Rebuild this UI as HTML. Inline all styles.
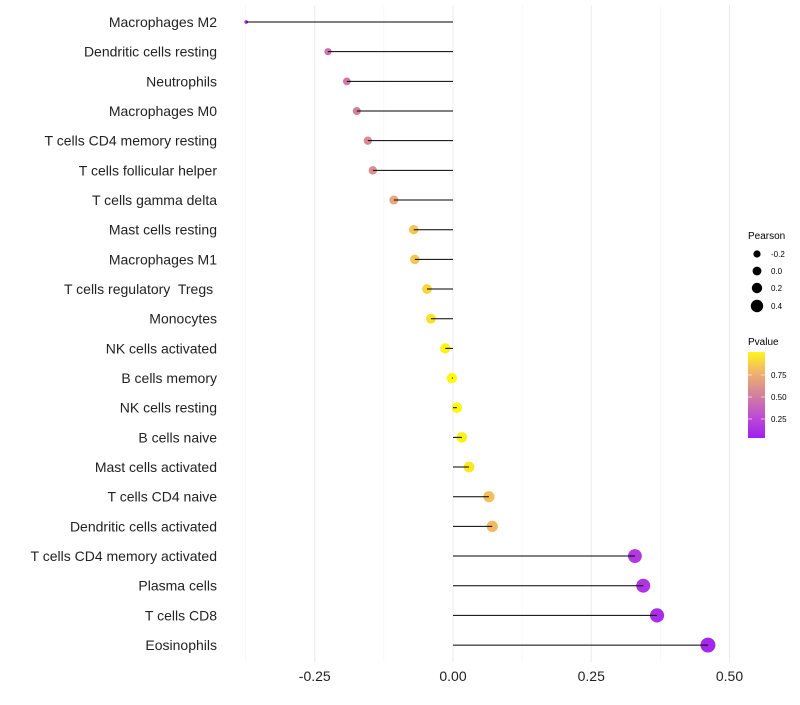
<!DOCTYPE html>
<html><head><meta charset="utf-8"><style>
body{margin:0;background:#fff;font-family:"Liberation Sans",sans-serif}
</style></head><body>
<svg id="chart" width="800" height="700" xmlns="http://www.w3.org/2000/svg">
<defs><linearGradient id="pg" x1="0" y1="1" x2="0" y2="0">
<stop offset="0" stop-color="#A020F0"/><stop offset="0.27" stop-color="#C050D0"/><stop offset="0.5" stop-color="#D4809C"/><stop offset="0.75" stop-color="#F0B070"/><stop offset="1" stop-color="#FFF51A"/></linearGradient></defs>
<g id="grid"></g><g id="points"></g><g id="marks"></g><g id="labels"></g>
<g font-size="9" fill="#000">
<text x="748" y="239" font-size="10">Pearson</text>
<circle cx="757" cy="254" r="3.6"/><text x="771" y="257" font-size="8">-0.2</text>
<circle cx="757" cy="271" r="4.4"/><text x="771" y="274" font-size="8">0.0</text>
<circle cx="757" cy="288" r="5.2"/><text x="771" y="291" font-size="8">0.2</text>
<circle cx="757" cy="306" r="6.2"/><text x="771" y="309" font-size="8">0.4</text>
</g>
<g>
<text x="748" y="345" font-size="10">Pvalue</text>
<rect x="748" y="352" width="17" height="86" fill="url(#pg)"/>
<g stroke="#fff" stroke-opacity="0.6"><line x1="748" x2="752" y1="375" y2="375"/><line x1="761" x2="765" y1="375" y2="375"/><line x1="748" x2="752" y1="397" y2="397"/><line x1="761" x2="765" y1="397" y2="397"/><line x1="748" x2="752" y1="419" y2="419"/><line x1="761" x2="765" y1="419" y2="419"/></g>
<g font-size="8"><text x="771" y="378">0.75</text><text x="771" y="400">0.50</text><text x="771" y="422">0.25</text></g>
</g>
</svg>
<script>
const categories=["Macrophages M2","Dendritic cells resting","Neutrophils","Macrophages M0","T cells CD4 memory resting","T cells follicular helper","T cells gamma delta","Mast cells resting","Macrophages M1","T cells regulatory  Tregs ","Monocytes","NK cells activated","B cells memory","NK cells resting","B cells naive","Mast cells activated","T cells CD4 naive","Dendritic cells activated","T cells CD4 memory activated","Plasma cells","T cells CD8","Eosinophils"];
const pearson=[-0.374,-0.226,-0.192,-0.174,-0.154,-0.145,-0.107,-0.071,-0.069,-0.047,-0.040,-0.014,-0.002,0.007,0.016,0.029,0.065,0.071,0.329,0.344,0.369,0.461];
const pvalues=[0.12,0.42,0.46,0.5,0.55,0.57,0.7,0.82,0.82,0.88,0.92,0.97,1.0,0.99,0.97,0.94,0.8,0.78,0.14,0.12,0.08,0.04];
const xTicks=[-0.25,0,0.25,0.5];
const xTickLabels=["-0.25","0.00","0.25","0.50"];
const NS="http://www.w3.org/2000/svg";
const xs=v=>453+v*553;
const ys=i=>22+i*29.67;
const rs=v=>Math.sqrt(Math.max(2,27+63*v));
function col(p){const st=[[0,[160,32,240]],[0.27,[192,80,208]],[0.5,[212,128,156]],[0.75,[240,176,112]],[1,[255,250,10]]];
for(let i=1;i<st.length;i++){if(p<=st[i][0]){const t=(p-st[i-1][0])/(st[i][0]-st[i-1][0]);const c=st[i-1][1].map((a,k)=>Math.round(a+(st[i][1][k]-a)*t));return `rgb(${c})`;}}return "rgb(255,250,10)";}
function mk(t,a,p){const e=document.createElementNS(NS,t);for(const k in a)e.setAttribute(k,a[k]);p.appendChild(e);return e;}
const grid=document.getElementById('grid'),marks=document.getElementById('marks'),points=document.getElementById('points'),labels=document.getElementById('labels');
[-0.375,-0.125,0.125,0.375].forEach(v=>{const l=mk('line',{x1:xs(v),x2:xs(v),y1:5,y2:662,stroke:'#f3f3f3','stroke-width':0.6},grid);

});
xTicks.forEach((v,i)=>{const l=mk('line',{x1:xs(v),x2:xs(v),y1:5,y2:662,stroke:'#ebebeb','stroke-width':1},grid);


const t=mk('text',{x:xs(v),y:681,'text-anchor':'middle','font-size':14,fill:'#222'},labels);t.textContent=xTickLabels[i];

});
categories.forEach((c,i)=>{const y=ys(i);
const d=mk('circle',{cx:xs(pearson[i]),cy:y,r:rs(pearson[i]),fill:col(pvalues[i])},points);


const l=mk('line',{x1:xs(0),x2:xs(pearson[i]),y1:y,y2:y,stroke:'#000','stroke-width':1},marks);


const t=mk('text',{x:217,y:y+5,'text-anchor':'end','font-size':14,fill:'#222','xml:space':'preserve'},labels);t.textContent=c;
t.style.whiteSpace='pre';

});
</script>
</body></html>
